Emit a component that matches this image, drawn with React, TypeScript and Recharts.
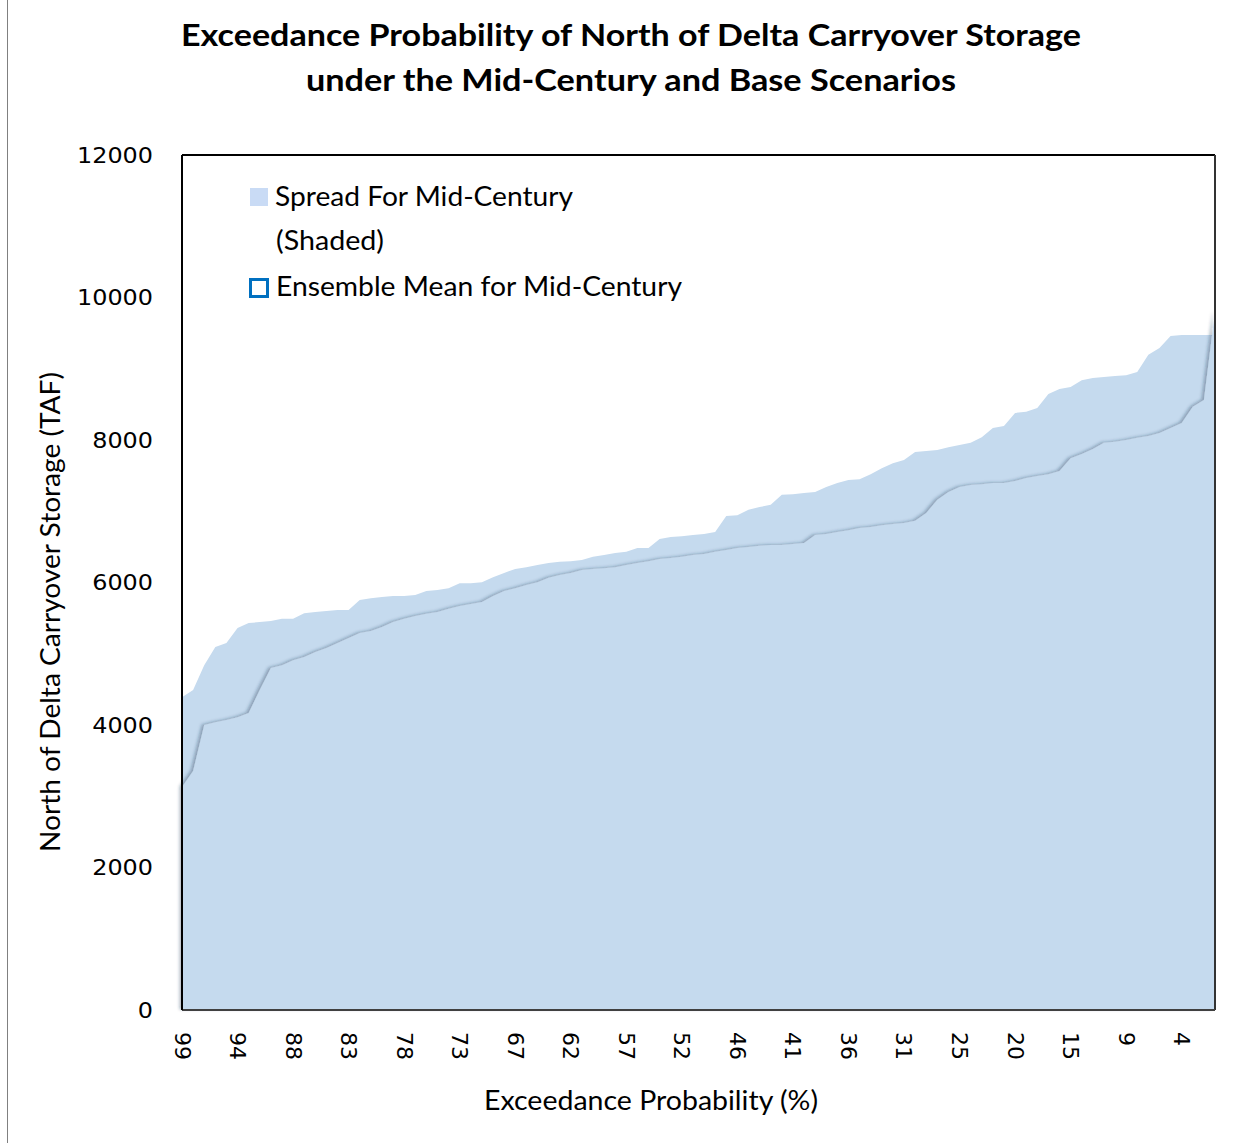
import { AreaChart, Area, XAxis, YAxis, ReferenceLine } from 'recharts';

// Exceedance probability (%) of each ranked year, left to right
const exceedance = [
    99, 98, 97, 96, 95, 94, 93, 92, 91, 89, 88, 87, 86, 85, 84, 83, 82, 81, 80, 79,
    78, 77, 76, 75, 74, 73, 72, 71, 69, 68, 67, 66, 65, 64, 63, 62, 61, 60, 59, 58,
    57, 56, 55, 54, 53, 52, 51, 49, 48, 47, 46, 45, 44, 43, 42, 41, 40, 39, 38, 37,
    36, 35, 34, 33, 32, 31, 29, 28, 27, 26, 25, 24, 23, 22, 21, 20, 19, 18, 17, 16,
    15, 14, 13, 12, 11, 9, 8, 7, 6, 5, 4, 3, 2, 1,
];

// Upper edge of the shaded spread (TAF)
const spreadMax = [
    4390, 4490, 4840, 5095, 5150, 5360, 5430, 5445, 5460, 5490,
    5490, 5570, 5585, 5600, 5615, 5615, 5755, 5780, 5795, 5810,
    5810, 5825, 5880, 5895, 5920, 5990, 5990, 6005, 6075, 6135,
    6190, 6215, 6245, 6275, 6290, 6300, 6315, 6360, 6385, 6415,
    6430, 6485, 6485, 6610, 6640, 6650, 6665, 6680, 6710, 6935,
    6945, 7020, 7060, 7090, 7230, 7240, 7255, 7270, 7340, 7395,
    7440, 7450, 7520, 7605, 7675, 7720, 7830, 7845, 7860, 7900,
    7930, 7960, 8040, 8170, 8195, 8380, 8395, 8450, 8645, 8715,
    8745, 8840, 8870, 8885, 8900, 8910, 8955, 9195, 9290, 9460,
    9475, 9475, 9475, 9475,
];

// Ensemble mean for mid-century (TAF)
const ensembleMean = [
    3130, 3355, 4000, 4040, 4070, 4110, 4170, 4490, 4800, 4840,
    4910, 4955, 5025, 5080, 5150, 5220, 5290, 5320, 5375, 5445,
    5490, 5530, 5560, 5585, 5630, 5670, 5700, 5725, 5810, 5880,
    5920, 5965, 6005, 6065, 6105, 6135, 6175, 6190, 6200, 6215,
    6245, 6275, 6300, 6330, 6345, 6360, 6385, 6400, 6430, 6455,
    6485, 6500, 6515, 6525, 6525, 6540, 6555, 6665, 6680, 6710,
    6735, 6765, 6780, 6805, 6820, 6835, 6865, 6975, 7160, 7270,
    7340, 7370, 7380, 7395, 7395, 7425, 7465, 7495, 7520, 7565,
    7745, 7805, 7875, 7960, 7975, 8000, 8030, 8055, 8100, 8170,
    8240, 8465, 8560, 9800,
];

const yTicks = [0, 2000, 4000, 6000, 8000, 10000, 12000];

const data = exceedance.map((p, i) => ({
    p,
    spread: spreadMax[i],
    mean: ensembleMean[i],
}));

const fill = '#C5DAEE';
const textFont = 'Lato, "Open Sans", sans-serif';
const tickFont = '"DejaVu Sans", Verdana, sans-serif';

function YTick({ x, y, payload }: any) {
    const s = String(payload.value);
    return (
        <text x={x} y={y} textAnchor="end" dominantBaseline="central"
            fontFamily={tickFont} fontSize={22} fill="#000"
            textLength={s.length * 15.2} lengthAdjust="spacingAndGlyphs">
            {s}
        </text>
    );
}

function XTick({ x, payload }: any) {
    const s = String(payload.value);
    return (
        <text transform={`translate(${x},1032) rotate(90)`} textAnchor="start" dominantBaseline="central"
            fontFamily={tickFont} fontSize={22} fill="#000">
            {s}
        </text>
    );
}

export default function App() {
    return (
        <div style={{ position: 'absolute', left: 0, top: 0, width: 1250, height: 1143 }}>
            <style>{`.mean-area .recharts-area-area { filter: url(#meanShadow); }`}</style>
            <AreaChart
                width={1250}
                height={1143}
                data={data}
                margin={{ top: 155, right: 35, bottom: 73, left: 82 }}
            >
                <XAxis
                    dataKey="p"
                    interval={4}
                    height={60}
                    tickLine={false}
                    tick={<XTick />}
                    axisLine={{ stroke: '#404040', strokeWidth: 2 }}
                />
                <YAxis
                    width={100}
                    domain={[0, 12000]}
                    ticks={yTicks}
                    tickLine={false}
                    tickSize={0}
                    tickMargin={29}
                    tick={<YTick />}
                    axisLine={{ stroke: '#000', strokeWidth: 2 }}
                />
                <Area
                    type="linear"
                    dataKey="spread"
                    stroke="none"
                    fill={fill}
                    fillOpacity={1}
                    isAnimationActive={false}
                />
                <Area
                    className="mean-area"
                    type="linear"
                    dataKey="mean"
                    stroke="none"
                    fill={fill}
                    fillOpacity={1}
                    isAnimationActive={false}
                />
                <ReferenceLine y={12000} stroke="#000" strokeWidth={2} />
                <ReferenceLine x={1} stroke="#333" strokeWidth={2} />
            </AreaChart>

            <svg width={1250} height={1143} style={{ position: 'absolute', left: 0, top: 0, pointerEvents: 'none' }}>
                <defs>
                    <filter id="meanShadow" x="-5%" y="-5%" width="110%" height="110%">
                        <feDropShadow dx={-2.5} dy={-0.5} stdDeviation={1.6} floodColor="#1f3550" floodOpacity={0.35} />
                    </filter>
                </defs>
                <line x1={7.5} y1={0} x2={7.5} y2={1143} stroke="#808080" strokeWidth={1} />

                <text x={631} y={46} textAnchor="middle" fontFamily={textFont} fontWeight="bold" fontSize={31}
                    textLength={900} lengthAdjust="spacingAndGlyphs">
                    Exceedance Probability of North of Delta Carryover Storage
                </text>
                <text x={631} y={91} textAnchor="middle" fontFamily={textFont} fontWeight="bold" fontSize={31}
                    textLength={650} lengthAdjust="spacingAndGlyphs">
                    under the Mid-Century and Base Scenarios
                </text>

                <text transform="translate(60,612) rotate(-90)" textAnchor="middle" fontFamily={textFont} fontSize={26}
                    textLength={480} lengthAdjust="spacingAndGlyphs">
                    North of Delta Carryover Storage (TAF)
                </text>
                <text x={651} y={1110} textAnchor="middle" fontFamily={textFont} fontSize={26}
                    textLength={334} lengthAdjust="spacingAndGlyphs">
                    Exceedance Probability (%)
                </text>

                <rect x={250} y={188} width={18} height={18} fill="#C9DBF5" />
                <text x={275} y={206} fontFamily={textFont} fontSize={26}
                    textLength={298} lengthAdjust="spacingAndGlyphs">
                    Spread For Mid-Century
                </text>
                <text x={276} y={250} fontFamily={textFont} fontSize={26}
                    textLength={108} lengthAdjust="spacingAndGlyphs">
                    (Shaded)
                </text>
                <rect x={250.5} y={279.5} width={17} height={17} fill="#fff" stroke="#0070C0" strokeWidth={3} />
                <text x={276} y={296} fontFamily={textFont} fontSize={26}
                    textLength={406} lengthAdjust="spacingAndGlyphs">
                    Ensemble Mean for Mid-Century
                </text>
            </svg>
        </div>
    );
}
